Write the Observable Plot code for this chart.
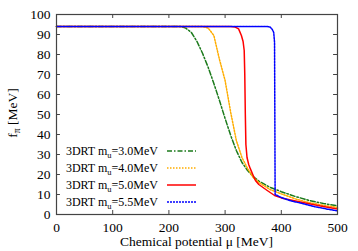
<!DOCTYPE html>
<html><head><meta charset="utf-8">
<script src="https://cdn.jsdelivr.net/npm/d3@7"></script>
<script src="https://cdn.jsdelivr.net/npm/@observablehq/plot@0.6"></script>
<style>body{margin:0;background:#fff} svg{display:block} svg text{font-family:"Liberation Serif","Times New Roman",serif !important;}</style>
</head><body><div id="chart"></div>
<script>
const xTicks = [0, 100, 200, 300, 400, 500];
const yTicks = [0, 10, 20, 30, 40, 50, 60, 70, 80, 90, 100];
const seriesNames = ["3.0", "4.0", "5.0", "5.5"];
const colors = ["#1b7a1b", "#ffad00", "#ff0000", "#0000ff"];
const dashes = ["5,2,1.5,2", "1.5,1.5", null, "2,1"];

const mu30 = [0,220,230,240,250,260,270,280,290,300,310,320,330,340,350,360,380,400,425,450,475,500];
const f30  = [94,94,93.2,91,86.5,80.5,73.5,65.5,57,48,39.5,32,26,22,19,16.7,13.6,11.4,9,7,5.5,4.3];
const mu40 = [0,260,270,280,290,300,310,320,330,340,350,360,380,400,425,450,475,500];
const f40  = [94,94,93.2,89.5,77.5,67,51,37,28.5,23,18.5,16,12.5,10.3,7.8,5.9,4.6,3.5];
const mu50 = [0,310,318,324,329,332,334,335,336,337,339,342,345,350,354,360,375,388,400,434,470,500];
const f50  = [94,94,93.7,92.8,89.5,86.5,82,70,50,35,28.5,25,22.8,19.5,17,15,12,9.5,8.3,6.3,4.3,2.8];
const mu55 = [0,375,380,384,386.5,388,388.5,389,392,400,415,434,460,480,500];
const f55  = [94,94,93.7,92.5,91,86,50,10,9.6,8.5,7,5.7,3.9,2.8,1.8];

const muList = [mu30, mu40, mu50, mu55];
const fList = [f30, f40, f50, f55];
const data = [];
muList.forEach((mus, i) => mus.forEach((m, j) => data.push({s: seriesNames[i], mu: m, f: fList[i][j]})));

const font = "'Liberation Serif', 'Times New Roman', serif";
const frameColor = "#444";

const lineMarks = seriesNames.map((s, i) => Plot.line(data.filter(d => d.s === s), {
  x: "mu", y: "f", stroke: colors[i], strokeWidth: 1.5, strokeDasharray: dashes[i]
}));

const plot = Plot.plot({
  width: 358, height: 251,
  marginLeft: 56, marginRight: 21, marginTop: 14, marginBottom: 37,
  style: {fontFamily: font, fontSize: "13px", color: "#000", background: "#fff"},
  x: {domain: [0, 500]},
  y: {domain: [0, 100]},
  marks: [
    ...lineMarks,
    Plot.ruleX(xTicks, {x: d => d, y1: 0, y2: 2, stroke: frameColor}),
    Plot.ruleX(xTicks, {x: d => d, y1: 98, y2: 100, stroke: frameColor}),
    Plot.ruleY(yTicks, {y: d => d, x1: 0, x2: 7, stroke: frameColor}),
    Plot.ruleY(yTicks, {y: d => d, x1: 493, x2: 500, stroke: frameColor}),
    Plot.frame({stroke: frameColor, strokeWidth: 1.2}),
    Plot.axisX(xTicks, {tickSize: 0, tickPadding: 8, label: null, fontSize: 13.5, fill: "#000"}),
    Plot.axisY(yTicks, {tickSize: 0, tickPadding: 6, label: null, fontSize: 13.5, fill: "#000"})
  ]
});

const svg = d3.select(plot);
// x label
svg.append("text").attr("x", 196.5).attr("y", 246).attr("text-anchor", "middle")
  .attr("font-size", 13.5).attr("fill", "#000").text("Chemical potential μ [MeV]");
// y label
const yl = svg.append("text").attr("transform", "translate(17,113) rotate(-90)")
  .attr("text-anchor", "middle").attr("font-size", 13.5).attr("fill", "#000");
yl.append("tspan").text("f");
yl.append("tspan").attr("font-size", 9.5).attr("dy", 3).text("π");
yl.append("tspan").attr("dy", -3).text(" [MeV]");

// legend
const rows = [151, 168, 185, 202];
seriesNames.forEach((s, i) => {
  const t = svg.append("text").attr("x", 158).attr("y", rows[i] + 4).attr("text-anchor", "end")
    .attr("font-size", 12).attr("fill", "#000");
  t.append("tspan").text("3DRT m");
  t.append("tspan").attr("font-size", 8.5).attr("dy", 2.5).text("u");
  t.append("tspan").attr("dy", -2.5).text("=" + s + "MeV");
  svg.append("line").attr("x1", 167).attr("x2", 196).attr("y1", rows[i]).attr("y2", rows[i])
    .attr("stroke", colors[i]).attr("stroke-width", 1.5)
    .attr("stroke-dasharray", dashes[i]);
});
document.getElementById("chart").appendChild(plot);
</script></body></html>
